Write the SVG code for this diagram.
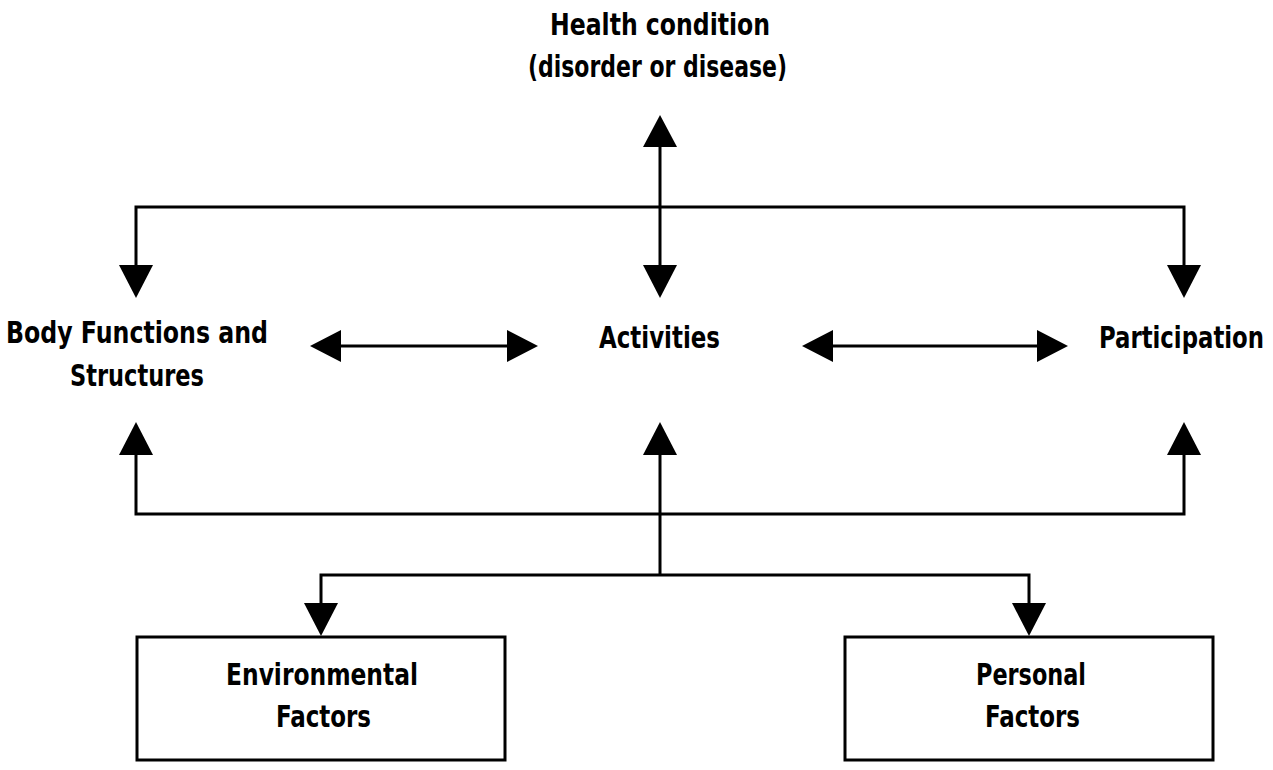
<svg xmlns="http://www.w3.org/2000/svg" width="1273" height="770" viewBox="0 0 1273 770">
<style>
  text { font-family: "DejaVu Sans", "Liberation Sans", sans-serif; font-stretch: condensed; font-weight: bold; font-size: 31px; fill: #000; text-anchor: start; }
  .ln { fill: none; stroke: #000; stroke-width: 3; }
  .box { fill: #fff; stroke: #000; stroke-width: 3; }
  .ah { fill: #000; stroke: none; }
</style>
<rect width="1273" height="770" fill="#fff"/>
<g id="connectors">
  <line class="ln" x1="660" y1="145" x2="660" y2="268"/>
  <polygon class="ah" points="660,115 643,147 677,147"/>
  <polygon class="ah" points="660,298 643,265 677,265"/>
  <polyline class="ln" points="136,268 136,207 1184,207 1184,268"/>
  <polygon class="ah" points="136,298 119,265 153,265"/>
  <polygon class="ah" points="1184,298 1167,265 1201,265"/>
  <line class="ln" x1="338" y1="346" x2="510" y2="346"/>
  <polygon class="ah" points="310,346 341,330 341,362"/>
  <polygon class="ah" points="538,346 507,330 507,362"/>
  <line class="ln" x1="830" y1="346" x2="1040" y2="346"/>
  <polygon class="ah" points="802,346 833,330 833,362"/>
  <polygon class="ah" points="1068,346 1037,330 1037,362"/>
  <polyline class="ln" points="136,452 136,514 1184,514 1184,452"/>
  <line class="ln" x1="660" y1="452" x2="660" y2="575"/>
  <polygon class="ah" points="136,422 119,455 153,455"/>
  <polygon class="ah" points="660,422 643,455 677,455"/>
  <polygon class="ah" points="1184,422 1167,455 1201,455"/>
  <polyline class="ln" points="321,606 321,575 1029,575 1029,606"/>
  <polygon class="ah" points="321,636 304,603 338,603"/>
  <polygon class="ah" points="1029,636 1012,603 1046,603"/>
</g>
<g id="health">
  <text x="550" y="35" textLength="220" lengthAdjust="spacingAndGlyphs">Health condition</text>
  <text x="528" y="77" textLength="259" lengthAdjust="spacingAndGlyphs">(disorder or disease)</text>
</g>
<g id="body">
  <text x="6" y="343" textLength="262" lengthAdjust="spacingAndGlyphs">Body Functions and</text>
  <text x="70" y="386" textLength="134" lengthAdjust="spacingAndGlyphs">Structures</text>
</g>
<g id="activities">
  <text x="599" y="348" textLength="121" lengthAdjust="spacingAndGlyphs">Activities</text>
</g>
<g id="participation">
  <text x="1099" y="348" textLength="165" lengthAdjust="spacingAndGlyphs">Participation</text>
</g>
<g id="environmental">
  <rect class="box" x="137" y="637" width="368" height="123"/>
  <text x="226" y="685" textLength="192" lengthAdjust="spacingAndGlyphs">Environmental</text>
  <text x="276" y="727" textLength="95" lengthAdjust="spacingAndGlyphs">Factors</text>
</g>
<g id="personal">
  <rect class="box" x="845" y="637" width="368" height="123"/>
  <text x="976" y="685" textLength="110" lengthAdjust="spacingAndGlyphs">Personal</text>
  <text x="985" y="727" textLength="95" lengthAdjust="spacingAndGlyphs">Factors</text>
</g>
</svg>
